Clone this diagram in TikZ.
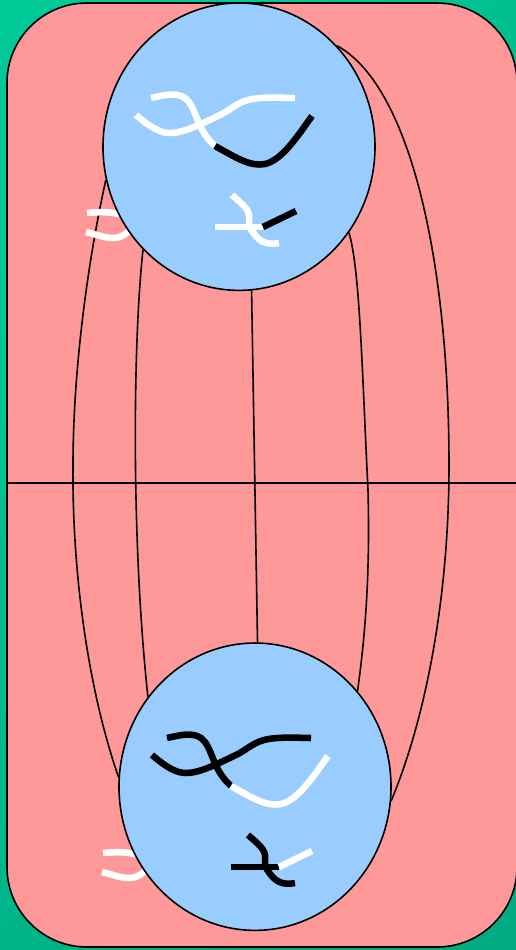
\documentclass[tikz,border=0pt]{standalone}
\usepackage{xcolor}
\usetikzlibrary{shapes.geometric, backgrounds}
\definecolor{sheetred}{HTML}{FF9999}
\definecolor{ballblue}{HTML}{99CCFF}
\definecolor{greentop}{HTML}{00C896}
\definecolor{greenbot}{HTML}{00AC80}
\tikzset{
    sketch/.style={x=0.75pt, y=-0.75pt, line width=1.2pt},
    ball/.style={draw, ellipse, fill=ballblue, minimum width=204pt, minimum height=215.5pt, inner sep=0pt},
    sheet/.style={draw, fill=sheetred, rounded corners=60pt},
    strand/.style={line width=4.9pt},
    % the two arcs that stick out to the left of a ball
    tail/.style={strand, white},
}

\begin{document}
\begin{tikzpicture}[sketch]
    \useasboundingbox (0,0) rectangle (516,950);

    \node[ball] (topball) at (239,146.7) {};
    \node[ball] (botball) at (255,786.7) {};
    \coordinate (eqleft)  at (7,483);
    \coordinate (eqright) at (516,483);

    \begin{scope}[on background layer]
    \begin{scope}[line width=1.2pt]
        \fill[top color=greentop, bottom color=greenbot, shading angle=45] (0,0) rectangle (516,950);
        \draw[sheet] (7,3) rectangle (517,947);
        \draw (eqleft) -- (eqright);

        % meridians from ball to ball
        \draw (topball.194) .. controls (88,260) and (73,370) .. (73,465)
            .. controls (72,560) and (85,680) .. (botball.176);
        \draw (topball.227) .. controls (133,340) and (131,540) .. (botball.140);
        \draw (topball.275) -- (botball.89);
        \draw (topball.322) .. controls (360,270) and (362,370) .. (368,490)
            .. controls (370,570) and (366,630) .. (botball.43);
        \draw (topball.46) .. controls (410,85) and (449,260) .. (449,465)
            .. controls (449,600) and (425,720) .. (botball.354);

        \draw[tail] (87,213) .. controls (97,212) and (112,211) .. (125,216);
        \draw[tail] (86,232) .. controls (98,235) and (105,238) .. (113,238) .. controls (120,238) and (125,235) .. (130,230);
        \draw[tail] (103,853) .. controls (113,852) and (128,851) .. (141,856);
        \draw[tail] (102,872) .. controls (114,875) and (121,878) .. (129,878) .. controls (136,878) and (141,875) .. (146,870);
    \end{scope}
    \end{scope}

    % strands inside the top ball
    \draw[strand, white] (151,98) .. controls (165,95) and (176,92) .. (185,98) .. controls (197,107) and (195,128) .. (215,146);
    \draw[strand] (215,146) .. controls (235,157) and (250,167) .. (265,164) .. controls (282,160) and (297,137) .. (312,116);
    \draw[strand, white] (136,115) .. controls (150,127) and (160,133) .. (170,133) .. controls (185,133) and (205,122) .. (222,114)
        .. controls (235,107) and (240,99) .. (262,98) .. controls (275,97) and (285,98) .. (295,98);
    \draw[strand, white] (232,195) .. controls (240,202) and (248,208) .. (249,215) .. controls (250,222) and (247,224) .. (252,231)
        .. controls (258,240) and (265,246) .. (279,243);
    \draw[strand, white] (215,227) -- (263,227);
    \draw[strand] (263,227) -- (296,211);

    % strands inside the bottom ball
    \begin{scope}[shift={(16,640)}]
        \draw[strand] (151,98) .. controls (165,95) and (176,92) .. (185,98) .. controls (197,107) and (195,128) .. (215,146);
        \draw[strand, white] (215,146) .. controls (235,157) and (250,167) .. (265,164) .. controls (282,160) and (297,137) .. (312,116);
        \draw[strand] (136,115) .. controls (150,127) and (160,133) .. (170,133) .. controls (185,133) and (205,122) .. (222,114)
            .. controls (235,107) and (240,99) .. (262,98) .. controls (275,97) and (285,98) .. (295,98);
        \draw[strand] (232,195) .. controls (240,202) and (248,208) .. (249,215) .. controls (250,222) and (247,224) .. (252,231)
            .. controls (258,240) and (265,246) .. (279,243);
        \draw[strand] (215,227) -- (263,227);
        \draw[strand, white] (263,227) -- (296,211);
    \end{scope}
\end{tikzpicture}
\end{document}
